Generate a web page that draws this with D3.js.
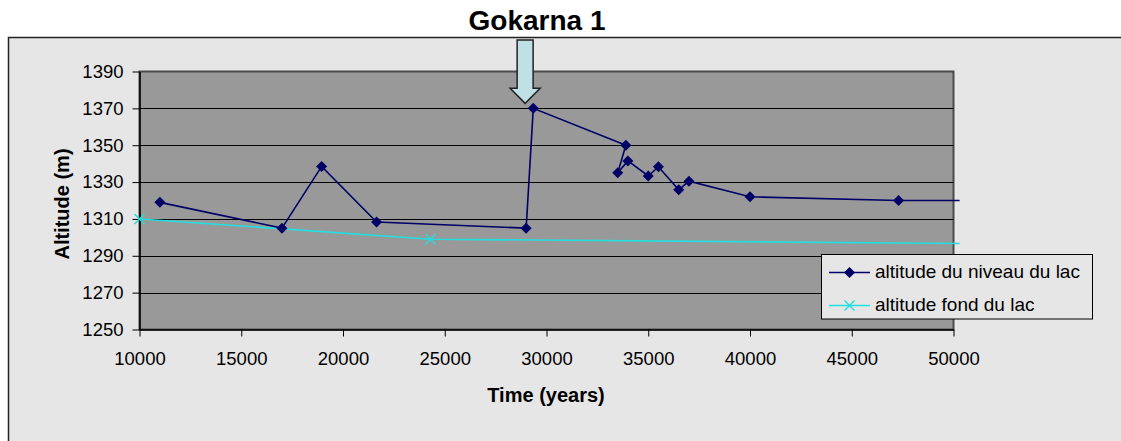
<!DOCTYPE html>
<html>
<head>
<meta charset="utf-8">
<script src="https://cdn.jsdelivr.net/npm/d3@7"></script>
<style>
  html, body { margin: 0; padding: 0; background: #ffffff; }
  svg { display: block; font-family: "Liberation Sans", Arial, sans-serif; }
</style>
</head>
<body>
<svg id="chart" width="1121" height="441"></svg>
<script>
// Lake level altitude (m) through time (years)
const levelYears = [11000, 17000, 18950, 21650, 29000, 29350, 33900, 33500, 34000, 35000, 35500, 36500, 37000, 40000, 47300, 50300];
const levelAlt   = [1319, 1305, 1338.5, 1308.3, 1305, 1370, 1350, 1335, 1341.5, 1333.3, 1338.3, 1325.8, 1330.5, 1322, 1320, 1320];

// Lake floor altitude (m) through time (years)
const floorYears = [10000, 24300, 50300];
const floorAlt   = [1310, 1299, 1296.7];

const xTicks = [10000, 15000, 20000, 25000, 30000, 35000, 40000, 45000, 50000];
const yTicks = [1250, 1270, 1290, 1310, 1330, 1350, 1370, 1390];

const seriesNames = ["altitude du niveau du lac", "altitude fond du lac"];
const titleText = "Gokarna 1";
const xTitle = "Time (years)";
const yTitle = "Altitude (m)";

// Year and altitude the arrow annotation points at
const arrowYear = 28950;
const arrowAlt = 1370;

const navy = "#000066";
const cyan = "#22e0e0";

const svg = d3.select("#chart");
const plot = { left: 139.5, right: 953.5, top: 71.5, bottom: 329.5 };

const x = d3.scaleLinear().domain([10000, 50000]).range([plot.left, plot.right]);
const y = d3.scaleLinear().domain([1250, 1390]).range([plot.bottom, plot.top]);

// Chart area
svg.append("rect")
  .attr("x", 8.5).attr("y", 37.5)
  .attr("width", 1200).attr("height", 500)
  .attr("fill", "#e6e6e6")
  .attr("stroke", "#222").attr("stroke-width", 1.5);

// Title
svg.append("text")
  .attr("x", 537).attr("y", 30)
  .attr("text-anchor", "middle")
  .attr("font-size", 28).attr("font-weight", "bold")
  .attr("fill", "#000")
  .text(titleText);

// Plot area
svg.append("rect")
  .attr("x", plot.left).attr("y", plot.top)
  .attr("width", plot.right - plot.left).attr("height", plot.bottom - plot.top)
  .attr("fill", "#999999")
  .attr("stroke", "#4a4a4a").attr("stroke-width", 2);

// Horizontal gridlines
svg.append("g")
  .selectAll("line")
  .data(yTicks.filter(d => d > 1250 && d < 1390))
  .join("line")
  .attr("x1", plot.left).attr("x2", plot.right)
  .attr("y1", d => Math.round(y(d)) + 0.5).attr("y2", d => Math.round(y(d)) + 0.5)
  .attr("stroke", "#000").attr("stroke-width", 1);

// Axes
const xAxis = d3.axisBottom(x).tickValues(xTicks).tickFormat(d3.format("d")).tickSizeInner(7).tickSizeOuter(0).tickPadding(15);
const gx = svg.append("g").attr("transform", `translate(0,${plot.bottom})`).call(xAxis);
gx.select(".domain").attr("stroke", "#000").attr("stroke-width", 1.5);
gx.selectAll(".tick line").attr("stroke", "#000");
gx.selectAll(".tick text").attr("font-size", 18.5).attr("font-family", '"Liberation Sans", Arial, sans-serif').attr("fill", "#000");

const yAxis = d3.axisLeft(y).tickValues(yTicks).tickFormat(d3.format("d")).tickSizeInner(7).tickSizeOuter(0).tickPadding(9);
const gy = svg.append("g").attr("transform", `translate(${plot.left},0)`).call(yAxis);
gy.select(".domain").attr("stroke", "#000").attr("stroke-width", 1.5);
gy.selectAll(".tick line").attr("stroke", "#000");
gy.selectAll(".tick text").attr("font-size", 18.5).attr("font-family", '"Liberation Sans", Arial, sans-serif').attr("fill", "#000");

// Axis titles
svg.append("text")
  .attr("x", 546).attr("y", 402)
  .attr("text-anchor", "middle")
  .attr("font-size", 20).attr("font-weight", "bold")
  .text(xTitle);

svg.append("text")
  .attr("transform", `translate(69,204) rotate(-90)`)
  .attr("text-anchor", "middle")
  .attr("font-size", 20).attr("font-weight", "bold")
  .text(yTitle);

// Series
const levelData = levelYears.map((t, i) => ({ t, v: levelAlt[i] }));
const floorData = floorYears.map((t, i) => ({ t, v: floorAlt[i] }));
const line = d3.line().x(d => x(d.t)).y(d => y(d.v));
const inDomain = d => d.t >= 10000 && d.t <= 50000;

svg.append("path").datum(floorData)
  .attr("d", line).attr("fill", "none")
  .attr("stroke", cyan).attr("stroke-width", 1.6);

const crossPath = "M-5,-5L5,5M-5,5L5,-5";
svg.append("g").selectAll("path")
  .data(floorData.filter(inDomain))
  .join("path")
  .attr("transform", d => `translate(${x(d.t)},${y(d.v)})`)
  .attr("d", crossPath)
  .attr("stroke", cyan).attr("stroke-width", 1.4).attr("fill", "none");

svg.append("path").datum(levelData)
  .attr("d", line).attr("fill", "none")
  .attr("stroke", navy).attr("stroke-width", 1.6);

const diamond = "M0,-5.5L5.5,0L0,5.5L-5.5,0Z";
svg.append("g").selectAll("path")
  .data(levelData.filter(inDomain))
  .join("path")
  .attr("transform", d => `translate(${x(d.t)},${y(d.v)})`)
  .attr("d", diamond)
  .attr("fill", navy);

// Arrow annotation
const tipX = x(arrowYear), tipY = y(arrowAlt) - 5;
const arrowPts = [
  [tipX - 8, 40], [tipX + 8, 40], [tipX + 8, tipY - 15], [tipX + 15, tipY - 15],
  [tipX, tipY], [tipX - 15, tipY - 15], [tipX - 8, tipY - 15]
];
svg.append("polygon")
  .attr("points", arrowPts.map(p => p.join(",")).join(" "))
  .attr("fill", "#bfe1e6")
  .attr("stroke", "#222").attr("stroke-width", 1.5);

// Legend
const lg = svg.append("g");
lg.append("rect")
  .attr("x", 821.5).attr("y", 254.5)
  .attr("width", 271).attr("height", 64.5)
  .attr("fill", "#e6e6e6").attr("stroke", "#000").attr("stroke-width", 1);

const legendRows = [
  { name: seriesNames[0], color: navy, marker: diamond, fill: navy, stroke: "none" },
  { name: seriesNames[1], color: cyan, marker: crossPath, fill: "none", stroke: cyan }
];
legendRows.forEach((r, i) => {
  const cy = 272.5 + i * 33;
  lg.append("line")
    .attr("x1", 829).attr("x2", 870).attr("y1", cy).attr("y2", cy)
    .attr("stroke", r.color).attr("stroke-width", 1.6);
  lg.append("path")
    .attr("transform", `translate(849.5,${cy})`)
    .attr("d", r.marker)
    .attr("fill", r.fill).attr("stroke", r.stroke).attr("stroke-width", 1.4);
  lg.append("text")
    .attr("x", 875).attr("y", cy + 5)
    .attr("font-size", 19)
    .attr("fill", "#000")
    .text(r.name);
});
</script>
</body>
</html>
